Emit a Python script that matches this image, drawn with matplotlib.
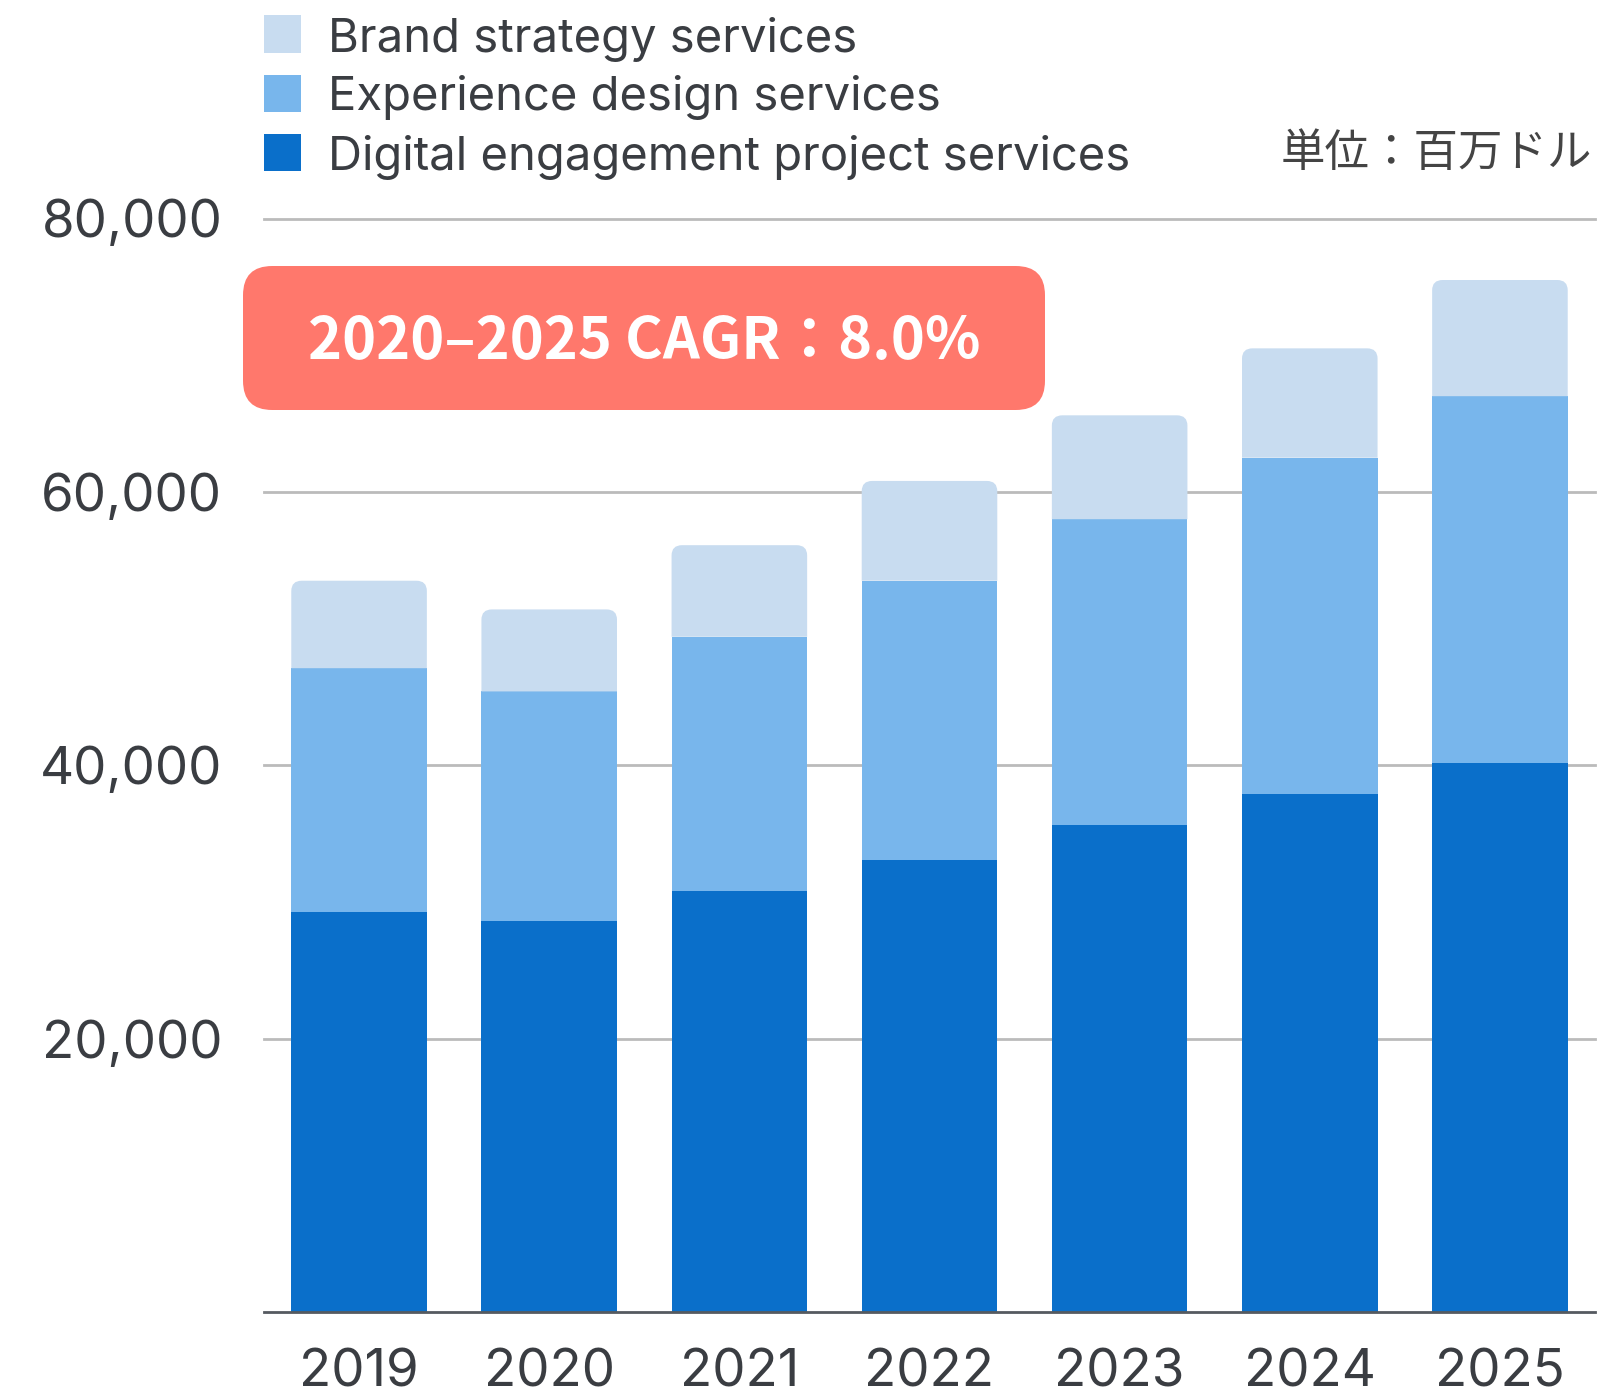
import matplotlib.pyplot as plt
from matplotlib.patches import Rectangle, FancyBboxPatch, PathPatch
from matplotlib.path import Path
import numpy as np

plt.rcParams['font.family'] = ['Inter', 'Noto Sans CJK JP', 'DejaVu Sans']

# Data (million USD)
years = ['2019', '2020', '2021', '2022', '2023', '2024', '2025']
digital = [29300, 28600, 30800, 33100, 35600, 37900, 40200]
experience = [17800, 16800, 18600, 20400, 22400, 24600, 26800]
brand = [6400, 6000, 6700, 7300, 7600, 8000, 8500]
series_names = ['Brand strategy services', 'Experience design services',
                'Digital engagement project services']
colors = ['#C8DCF0', '#78B6EC', '#0A6FCA']
yticks = [20000, 40000, 60000, 80000]
cagr_label = '2020–2025 CAGR：8.0%'
unit_label = '単位：百万ドル'

W, H = 1624, 1395
fig = plt.figure(figsize=(W / 100, H / 100), dpi=100)
ax = fig.add_axes([264 / W, 1 - 1312 / H, (1595 - 264) / W, (1312 - 218.5) / H])

x = np.arange(len(years))
bw = 0.713
ax.bar(x, digital, bw, color=colors[2], zorder=3)
ax.bar(x, experience, bw, bottom=digital, color=colors[1], zorder=3)

# top segment with rounded upper corners
rx, ry = 0.055, 750
for xi, b0, h in zip(x, np.add(digital, experience), brand):
    x0, x1 = xi - bw / 2, xi + bw / 2
    y0, y1 = b0, b0 + h
    verts = [(x0, y0), (x0, y1 - ry), (x0, y1), (x0 + rx, y1), (x1 - rx, y1),
             (x1, y1), (x1, y1 - ry), (x1, y0), (x0, y0)]
    codes = [Path.MOVETO, Path.LINETO, Path.CURVE3, Path.CURVE3, Path.LINETO,
             Path.CURVE3, Path.CURVE3, Path.LINETO, Path.CLOSEPOLY]
    ax.add_patch(PathPatch(Path(verts, codes), facecolor=colors[0], edgecolor='none', zorder=3))

ax.set_xlim(-0.5, len(years) - 0.5)
ax.set_ylim(0, 80000)
for s in ['top', 'right', 'left']:
    ax.spines[s].set_visible(False)
ax.spines['bottom'].set_color('#555A60')
ax.spines['bottom'].set_linewidth(2)
ax.spines['bottom'].set_zorder(4)
for t in yticks:
    ax.axhline(t, color='#BBBBBB', lw=2, zorder=1, clip_on=False)

txt = '#3A3D42'
ax.set_yticks(yticks)
ax.set_yticklabels([f'{t:,}' for t in yticks])
ax.set_xticks(x)
ax.set_xticklabels(years)
ax.tick_params(axis='y', length=0, pad=30, labelsize=38, labelcolor=txt)
ax.tick_params(axis='x', length=0, pad=26, labelsize=38, labelcolor=txt)

# legend (manual)
for i, (name, c) in enumerate(zip(series_names, colors)):
    yc = [34, 93, 152][i]
    fig.add_artist(Rectangle((264 / W, 1 - (yc + 18.5) / H), 37 / W, 37 / H,
                             transform=fig.transFigure, facecolor=c, edgecolor='none'))
    fig.text(328 / W, 1 - (yc + 5) / H, name, fontsize=34, color=txt,
             va='center', ha='left')

fig.text(1592 / W, 1 - 153 / H, unit_label, fontsize=32, color='#444444',
         va='center', ha='right', family=['Noto Sans CJK JP'])

# CAGR badge
bx0, by0, bx1, by1 = 243, 266, 1045, 410
fig.add_artist(FancyBboxPatch((bx0 / W, 1 - by1 / H), (bx1 - bx0) / W, (by1 - by0) / H,
                              boxstyle='round,pad=0,rounding_size=0.018',
                              transform=fig.transFigure, facecolor='#FF786C',
                              edgecolor='none', mutation_aspect=W / H))
fig.text((bx0 + bx1) / 2 / W, 1 - ((by0 + by1) / 2 + 4) / H, cagr_label, fontsize=41.5,
         fontweight='bold', color='white', ha='center', va='center',
         family=['Noto Sans CJK JP'])

fig.savefig('out.png', dpi=100)
